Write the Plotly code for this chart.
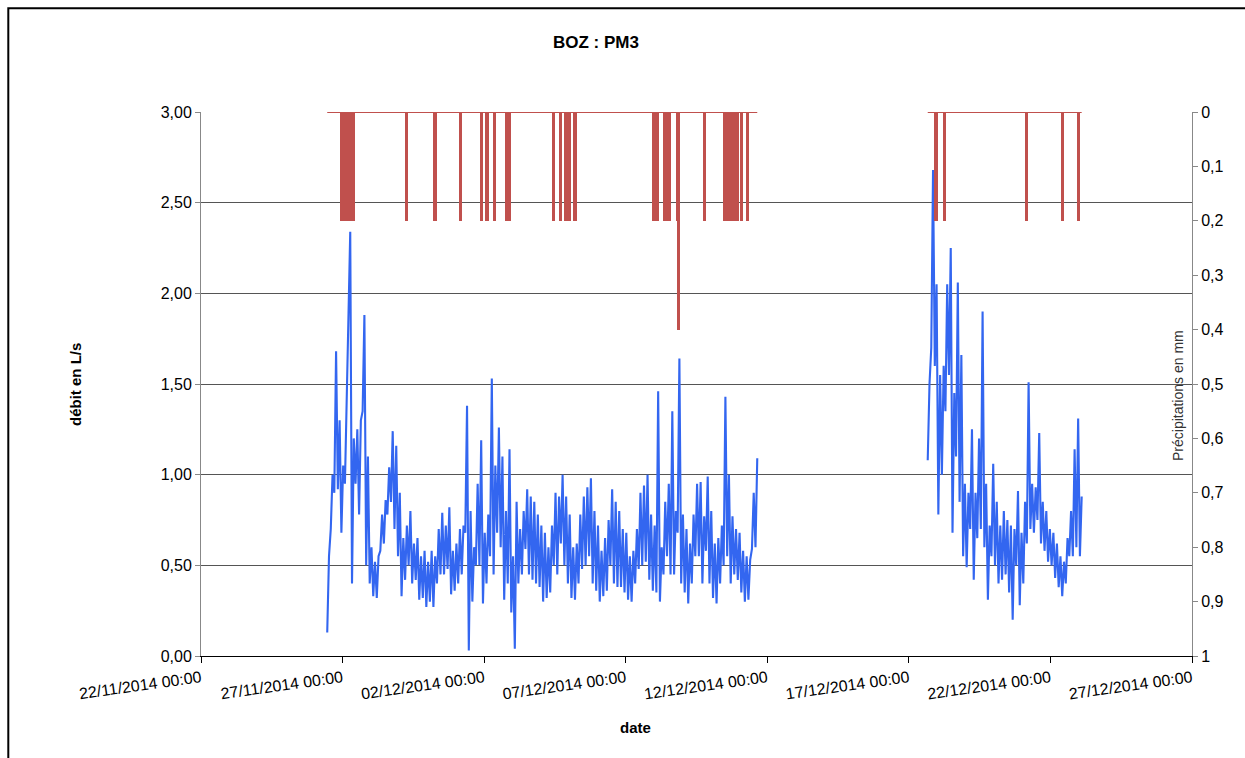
import pandas as pd
import plotly.graph_objects as go

# Débit (L/s) : valeur basse / valeur haute par pas de 3 h
debut_1 = "2014-11-26 11:00"
debit1_bas = [
    0.13, 0.70, 0.90, 0.92, 0.68, 0.95, 1.90, 0.40, 0.95, 0.78,
    1.35, 0.50, 0.40, 0.33, 0.32, 0.58, 0.62, 0.78, 0.85, 0.70,
    0.55, 0.33, 0.42, 0.50, 0.40, 0.42, 0.31, 0.32, 0.27, 0.30,
    0.27, 0.40, 0.45, 0.45, 0.48, 0.34, 0.36, 0.40, 0.45, 0.68,
    0.03, 0.30, 0.50, 0.50, 0.29, 0.40, 0.55, 0.45, 0.68, 0.60,
    0.31, 0.40, 0.24, 0.04, 0.40, 0.45, 0.59, 0.45, 0.42, 0.40,
    0.38, 0.30, 0.32, 0.35, 0.50, 0.45, 0.62, 0.50, 0.40, 0.32,
    0.31, 0.40, 0.48, 0.50, 0.55, 0.40, 0.36, 0.30, 0.33, 0.36,
    0.50, 0.40, 0.38, 0.38, 0.35, 0.31, 0.30, 0.40, 0.48, 0.50,
    0.52, 0.42, 0.36, 0.35, 0.30, 0.45, 0.55, 0.45, 0.45, 0.68,
    0.40, 0.35, 0.29, 0.40, 0.55, 0.55, 0.40, 0.58, 0.40, 0.32,
    0.29, 0.40, 0.50, 0.55, 0.40, 0.45, 0.42, 0.35, 0.30, 0.31,
    0.59, 0.60,
]
debit1_haut = [
    0.55, 1.00, 1.68, 1.30, 1.05, 1.43, 2.34, 1.20, 1.25, 1.30,
    1.88, 1.10, 0.60, 0.52, 0.55, 0.78, 0.86, 1.04, 1.24, 1.16,
    0.90, 0.65, 0.72, 0.80, 0.62, 0.65, 0.55, 0.58, 0.52, 0.58,
    0.55, 0.70, 0.79, 0.72, 0.82, 0.58, 0.62, 0.70, 0.72, 1.38,
    0.80, 0.60, 0.95, 1.19, 0.68, 0.78, 1.53, 1.05, 1.26, 1.10,
    0.80, 1.14, 0.55, 0.85, 0.70, 0.80, 0.92, 0.88, 0.85, 0.78,
    0.72, 0.68, 0.60, 0.72, 0.90, 0.88, 1.00, 0.88, 0.78, 0.60,
    0.62, 0.78, 0.88, 0.93, 0.98, 0.80, 0.72, 0.58, 0.65, 0.75,
    0.92, 0.85, 0.80, 0.70, 0.68, 0.55, 0.58, 0.70, 0.90, 0.94,
    1.00, 0.78, 0.72, 1.46, 0.60, 0.85, 0.95, 1.35, 0.80, 1.64,
    0.78, 0.70, 0.62, 0.78, 0.95, 0.96, 0.77, 0.99, 0.80, 0.62,
    0.65, 0.72, 1.43, 1.00, 0.77, 0.70, 0.68, 0.58, 0.55, 0.53,
    0.90, 1.09,
]

debut_2 = "2014-12-17 16:00"
debit2_bas = [
    1.08, 1.70, 1.60, 0.78, 1.00, 1.35, 1.55, 0.68, 1.10, 0.85,
    0.55, 0.49, 0.70, 0.42, 0.65, 0.70, 0.60, 0.31, 0.55, 0.50,
    0.40, 0.42, 0.45, 0.35, 0.20, 0.50, 0.28, 0.40, 0.62, 0.70,
    0.68, 0.75, 0.62, 0.58, 0.52, 0.50, 0.43, 0.38, 0.33, 0.40,
    0.55, 0.55, 0.60, 0.55,
]
debit2_haut = [
    1.50, 2.68, 2.05, 1.55, 1.60, 2.05, 2.25, 1.45, 2.06, 1.66,
    0.95, 0.90, 1.25, 0.90, 1.20, 1.90, 0.95, 0.72, 1.06, 0.85,
    0.72, 0.80, 0.75, 0.72, 0.70, 0.91, 0.68, 0.85, 1.51, 0.95,
    0.93, 1.23, 0.85, 0.80, 0.70, 0.68, 0.62, 0.55, 0.52, 0.65,
    0.80, 1.14, 1.31, 0.88,
]

# Précipitations horaires (mm)
pluie_dates = [
    "2014-11-26 23:00", "2014-11-27 00:00", "2014-11-27 01:00", "2014-11-27 02:00",
    "2014-11-27 03:00", "2014-11-27 04:00", "2014-11-27 05:00", "2014-11-27 06:00",
    "2014-11-27 07:00", "2014-11-27 08:00", "2014-11-27 09:00",
    "2014-11-29 06:00",
    "2014-11-30 06:00", "2014-11-30 07:00",
    "2014-12-01 04:00", "2014-12-01 22:00",
    "2014-12-02 02:00", "2014-12-02 03:00", "2014-12-02 09:00",
    "2014-12-02 19:00", "2014-12-02 20:00", "2014-12-02 21:00",
    "2014-12-04 11:00", "2014-12-04 17:00", "2014-12-04 21:00",
    "2014-12-05 00:00", "2014-12-05 05:00",
    "2014-12-08 00:00", "2014-12-08 01:00", "2014-12-08 02:00", "2014-12-08 03:00",
    "2014-12-08 09:00", "2014-12-08 10:00", "2014-12-08 11:00", "2014-12-08 12:00",
    "2014-12-08 13:00",
    "2014-12-08 20:00", "2014-12-08 21:00",
    "2014-12-09 19:00",
    "2014-12-10 12:00", "2014-12-10 13:00", "2014-12-10 14:00", "2014-12-10 15:00",
    "2014-12-10 16:00", "2014-12-10 17:00", "2014-12-10 18:00", "2014-12-10 19:00",
    "2014-12-10 20:00", "2014-12-10 21:00", "2014-12-10 22:00", "2014-12-10 23:00",
    "2014-12-11 02:00", "2014-12-11 07:00",
    "2014-12-17 23:00", "2014-12-18 06:00",
    "2014-12-21 04:00", "2014-12-22 10:00", "2014-12-23 00:00",
]
pluie_mm = [
    0.2, 0.2, 0.2, 0.2, 0.2, 0.2, 0.2, 0.2, 0.2, 0.2, 0.2,
    0.2,
    0.2, 0.2,
    0.2, 0.2,
    0.2, 0.2, 0.2,
    0.2, 0.2, 0.2,
    0.2, 0.2, 0.2,
    0.2, 0.2,
    0.2, 0.2, 0.2, 0.2,
    0.2, 0.2, 0.2, 0.2, 0.2,
    0.2, 0.4,
    0.2,
    0.2, 0.2, 0.2, 0.2, 0.2, 0.2, 0.2, 0.2, 0.2, 0.2, 0.2, 0.2,
    0.2, 0.2,
    0.2, 0.2,
    0.2, 0.2, 0.2,
]

x_debut, x_fin = "2014-11-22 00:00", "2014-12-27 00:00"
x_ticks = pd.date_range(x_debut, x_fin, freq="5D")
y_ticks = [0.0, 0.5, 1.0, 1.5, 2.0, 2.5, 3.0]
y2_ticks = [0.0, 0.1, 0.2, 0.3, 0.4, 0.5, 0.6, 0.7, 0.8, 0.9, 1.0]

PAS = pd.Timedelta(hours=3)
DEMI_PAS = pd.Timedelta(minutes=90)


def serie(debut, bas, haut):
    t0 = pd.Timestamp(debut)
    xs, ys = [], []
    for i, (b, h) in enumerate(zip(bas, haut)):
        t = t0 + i * PAS
        xs += [t, t + DEMI_PAS]
        ys += [b, h]
    return xs, ys


x1, y1 = serie(debut_1, debit1_bas, debit1_haut)
x2, y2 = serie(debut_2, debit2_bas, debit2_haut)

fig = go.Figure()

# ligne de base des précipitations sur les périodes mesurées
fig.add_trace(go.Scatter(
    x=[x1[0], x1[-1], None, x2[0], x2[-1]],
    y=[0, 0, None, 0, 0],
    yaxis="y2", mode="lines",
    line=dict(color="#C0504D", width=2),
    hoverinfo="skip",
))

fig.add_trace(go.Bar(
    x=pluie_dates, y=pluie_mm, yaxis="y2",
    width=2.8 * 3600 * 1000,
    marker=dict(color="#C0504D", line=dict(width=0)),
    name="Précipitations",
))

fig.add_trace(go.Scatter(
    x=x1 + [None] + x2, y=y1 + [None] + y2,
    mode="lines", line=dict(color="#3366F0", width=2.1),
    name="débit",
))

L, R, T, B = 201, 53, 112, 102
W, H = 1245, 758
pw, ph = W - L - R, H - T - B


def px(x):
    return (x - L) / pw


def py(y):
    return (H - B - y) / ph


police = "Liberation Sans, Arial, sans-serif"

fig.update_layout(
    width=W, height=H,
    margin=dict(l=L, r=R, t=T, b=B, pad=0),
    paper_bgcolor="white", plot_bgcolor="white",
    separators=", ",
    showlegend=False,
    bargap=0,
    font=dict(family=police, size=16, color="#000"),
    xaxis=dict(
        type="date", range=[x_debut, x_fin],
        tickvals=list(x_ticks), tickformat="%d/%m/%Y %H:%M",
        tickangle=-8, ticks="outside", ticklen=6, tickcolor="#000",
        showline=True, linecolor="#000", linewidth=1,
        showgrid=False, zeroline=False,
        tickfont=dict(size=16),
    ),
    yaxis=dict(
        range=[0, 3], tickvals=y_ticks, tickformat=".2f",
        ticks="outside", ticklen=5, tickcolor="#888",
        showline=True, linecolor="#888", linewidth=1,
        showgrid=True, gridcolor="#555", gridwidth=1,
        zeroline=False, tickfont=dict(size=16),
    ),
    yaxis2=dict(
        overlaying="y", side="right", range=[1, 0],
        tickvals=y2_ticks,
        ticks="outside", ticklen=5, tickcolor="#888",
        showline=True, linecolor="#888", linewidth=1,
        showgrid=False, zeroline=False, tickfont=dict(size=16),
    ),
    shapes=[dict(
        type="rect", xref="paper", yref="paper",
        x0=px(8.3), x1=px(1265), y0=py(790), y1=py(8.3),
        line=dict(color="#000", width=2), fillcolor="rgba(0,0,0,0)",
        layer="above",
    )],
    annotations=[
        dict(text="<b>BOZ : PM3</b>", x=px(596), y=py(42), xref="paper", yref="paper",
             showarrow=False, font=dict(size=17), xanchor="center", yanchor="middle"),
        dict(text="<b>débit en L/s</b>", x=px(75), y=py(385), xref="paper", yref="paper",
             showarrow=False, textangle=-90, font=dict(size=15),
             xanchor="center", yanchor="middle"),
        dict(text="<b>date</b>", x=px(635), y=py(727), xref="paper", yref="paper",
             showarrow=False, font=dict(size=15), xanchor="center", yanchor="middle"),
        dict(text="Précipitations en mm", x=px(1178), y=py(396), xref="paper", yref="paper",
             showarrow=False, textangle=-90, font=dict(size=14, color="#333"),
             xanchor="center", yanchor="middle"),
    ],
)

fig.write_html("out.html")
